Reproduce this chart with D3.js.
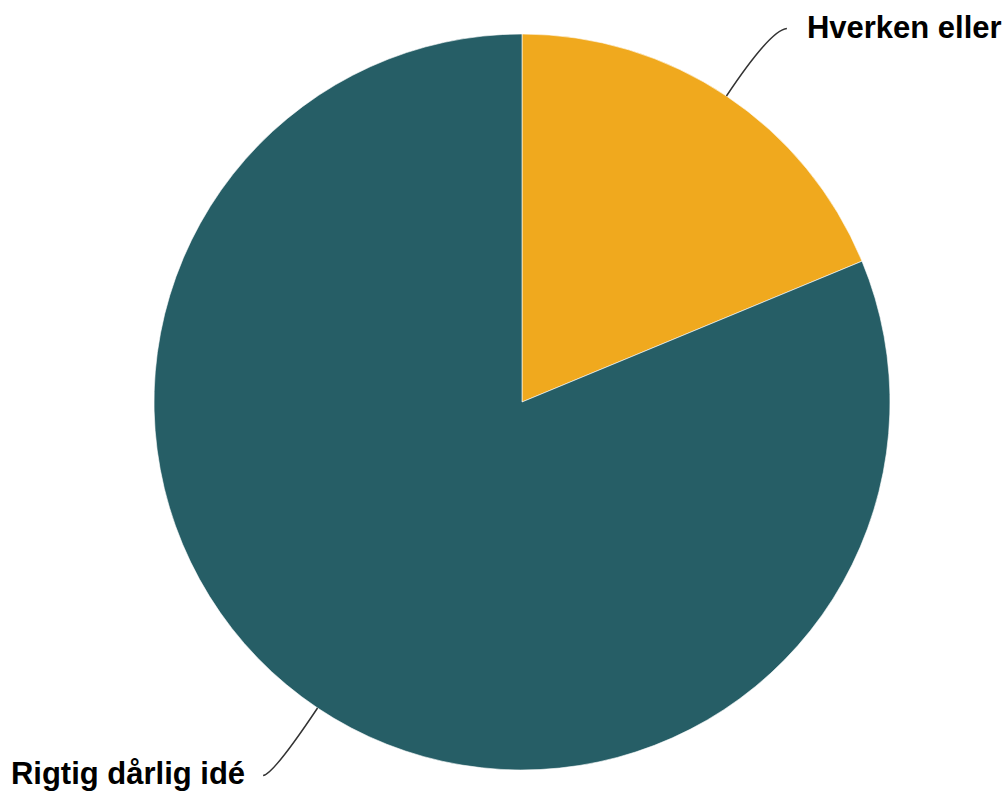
<!DOCTYPE html>
<html><head><meta charset="utf-8">
<script src="https://cdn.jsdelivr.net/npm/d3@7"></script>
<style>html,body{margin:0;padding:0;background:#fff;}svg{display:block;}</style>
</head><body>
<svg id="chart" width="1006" height="792"></svg>
<script>
const categories = ["Hverken eller", "Rigtig dårlig idé"];
const values = [18.75, 81.25];
const colors = ["#F0A91E", "#265E66"];

const W = 1006, H = 792;
const cx = 522, cy = 402, R = 368;
const svg = d3.select("#chart");
const g = svg.append("g").attr("transform", `translate(${cx},${cy})`);

const data = categories.map((c, i) => ({name: c, value: values[i], color: colors[i]}));
const pie = d3.pie().value(d => d.value).sort(null);
const arcs = pie(data);
const arc = d3.arc().innerRadius(0).outerRadius(R);

g.selectAll("path.slice").data(arcs).enter().append("path")
  .attr("class", "slice")
  .attr("d", arc)
  .attr("fill", d => d.data.color)
  .attr("stroke", "#ffffff")
  .attr("stroke-width", 0.6);

// connectors and labels
arcs.forEach(a => {
  const mid = (a.startAngle + a.endAngle) / 2;
  const sx = Math.sin(mid), sy = -Math.cos(mid);
  const p0 = [R * sx, R * sy];
  const c1 = [(R + 80) * sx, (R + 80) * sy];
  const right = sx >= 0;
  const p2 = [c1[0] + (right ? 16 : -10), c1[1] + (right ? -1 : 1)];
  const path = d3.path();
  path.moveTo(p0[0], p0[1]);
  path.quadraticCurveTo(c1[0], c1[1], p2[0], p2[1]);
  g.append("path").attr("d", path.toString())
    .attr("fill", "none").attr("stroke", "#333").attr("stroke-width", 1.5);
  g.append("text")
    .attr("x", p2[0] + (right ? 20 : -18))
    .attr("y", p2[1] + 9)
    .attr("text-anchor", right ? "start" : "end")
    .attr("font-family", "Liberation Sans, Arial, sans-serif")
    .attr("font-weight", "bold")
    .attr("font-size", 31)
    .attr("fill", "#000")
    .text(a.data.name);
});
</script>
</body></html>
